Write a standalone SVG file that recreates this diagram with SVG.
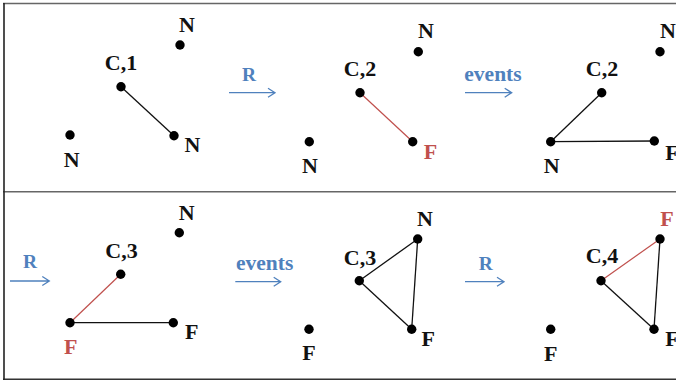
<svg xmlns="http://www.w3.org/2000/svg" width="676" height="381" viewBox="0 0 676 381">
<defs>
<style>
.lbl{font-family:"Liberation Serif","Times New Roman",serif;font-weight:bold;font-size:22px;fill:#111;text-anchor:middle}
.red{fill:#c0504d}
.blue{font-family:"Liberation Serif","Times New Roman",serif;font-weight:bold;fill:#4f81bd;text-anchor:middle}
.dot{fill:#000}
.e{stroke:#111;stroke-width:1.3;fill:none}
.er{stroke:#c0504d;stroke-width:1.2;fill:none}
.arr{stroke:#4f81bd;stroke-width:1.3;fill:none}
</style>
</defs>
<rect width="676" height="381" fill="#fff"/>
<g id="frame">
<line x1="3" y1="3.5" x2="676" y2="3.5" stroke="#666" stroke-width="1.6"/>
<line x1="3" y1="191.7" x2="676" y2="191.7" stroke="#666" stroke-width="1.6"/>
<line x1="3" y1="379.3" x2="676" y2="379.3" stroke="#333" stroke-width="1.6"/>
<line x1="4" y1="3" x2="4" y2="380" stroke="#222" stroke-width="1.6"/>
</g>
<g id="connectors">
<line class="e" x1="121" y1="86.7" x2="174" y2="135.7"/>
<line class="er" x1="360" y1="92.7" x2="412.7" y2="141.7"/>
<line class="e" x1="601.7" y1="92.7" x2="550.7" y2="141.7"/>
<line class="e" x1="550.7" y1="141.7" x2="654.3" y2="141"/>
<line class="er" x1="120.7" y1="274.3" x2="70" y2="322.7"/>
<line class="e" x1="70" y1="322.7" x2="173.3" y2="322.7"/>
<line class="e" x1="359.3" y1="280.7" x2="417.7" y2="239"/>
<line class="e" x1="359.3" y1="280.7" x2="411.7" y2="329.3"/>
<line class="e" x1="417.7" y1="239" x2="411.7" y2="329.3"/>
<line class="er" x1="601" y1="280.7" x2="660" y2="239"/>
<line class="e" x1="601" y1="280.7" x2="654" y2="329.3"/>
<line class="e" x1="660" y1="239" x2="654" y2="329.3"/>
</g>
<g id="arrows">
<path class="arr" d="M229 92.7H275M268 88.2L275 92.7L268 97.2"/>
<path class="arr" d="M465 92.7H511.7M504.7 88.2L511.7 92.7L504.7 97.2"/>
<path class="arr" d="M10 281H49.3M42.3 276.5L49.3 281L42.3 285.5"/>
<path class="arr" d="M235.3 281.7H280.7M273.7 277.2L280.7 281.7L273.7 286.2"/>
<path class="arr" d="M465 281.7H504M497 277.2L504 281.7L497 286.2"/>
<text class="blue" x="249" y="80.5" font-size="19.5">R</text>
<text class="blue" x="493" y="81" font-size="21.5">events</text>
<text class="blue" x="30" y="268.3" font-size="19.5">R</text>
<text class="blue" x="264.7" y="270" font-size="21.5">events</text>
<text class="blue" x="485.7" y="270" font-size="19.5">R</text>
</g>
<g id="p1-n-top"><circle class="dot" cx="180" cy="45" r="4.7"/><text class="lbl" x="187" y="32">N</text></g>
<g id="p1-c1"><circle class="dot" cx="121" cy="86.7" r="4.7"/><text class="lbl" x="121" y="70">C,1</text></g>
<g id="p1-n-right"><circle class="dot" cx="174" cy="135.7" r="4.7"/><text class="lbl" x="192.5" y="152">N</text></g>
<g id="p1-n-left"><circle class="dot" cx="70" cy="135" r="4.7"/><text class="lbl" x="71.7" y="167">N</text></g>
<g id="p2-n-left"><circle class="dot" cx="309.3" cy="141.7" r="4.7"/><text class="lbl" x="310" y="173">N</text></g>
<g id="p2-n-top"><circle class="dot" cx="418.3" cy="51.7" r="4.7"/><text class="lbl" x="426" y="38">N</text></g>
<g id="p2-c2"><circle class="dot" cx="360" cy="92.7" r="4.7"/><text class="lbl" x="360" y="76">C,2</text></g>
<g id="p2-f"><circle class="dot" cx="412.7" cy="141.7" r="4.7"/><text class="lbl red" x="430.5" y="159.3">F</text></g>
<g id="p3-c2"><circle class="dot" cx="601.7" cy="92.7" r="4.7"/><text class="lbl" x="602" y="76">C,2</text></g>
<g id="p3-n"><circle class="dot" cx="550.7" cy="141.7" r="4.7"/><text class="lbl" x="551.7" y="173">N</text></g>
<g id="p3-f"><circle class="dot" cx="654.3" cy="141" r="4.7"/><text class="lbl" x="672" y="160">F</text></g>
<g id="p3-n-top"><circle class="dot" cx="660" cy="51.7" r="4.7"/><text class="lbl" x="668" y="38">N</text></g>
<g id="p4-n"><circle class="dot" cx="179.3" cy="232.7" r="4.7"/><text class="lbl" x="186.7" y="220">N</text></g>
<g id="p4-c3"><circle class="dot" cx="120.7" cy="274.3" r="4.7"/><text class="lbl" x="121.5" y="257.7">C,3</text></g>
<g id="p4-f-left"><circle class="dot" cx="70" cy="322.7" r="4.7"/><text class="lbl red" x="70.7" y="354.3">F</text></g>
<g id="p4-f-right"><circle class="dot" cx="173.3" cy="322.7" r="4.7"/><text class="lbl" x="191.7" y="339">F</text></g>
<g id="p5-f-left"><circle class="dot" cx="309" cy="329.3" r="4.7"/><text class="lbl" x="309" y="360">F</text></g>
<g id="p5-n"><circle class="dot" cx="417.7" cy="239" r="4.7"/><text class="lbl" x="425" y="225.7">N</text></g>
<g id="p5-c3"><circle class="dot" cx="359.3" cy="280.7" r="4.7"/><text class="lbl" x="360" y="265">C,3</text></g>
<g id="p5-f"><circle class="dot" cx="411.7" cy="329.3" r="4.7"/><text class="lbl" x="428.3" y="345.7">F</text></g>
<g id="p6-f-left"><circle class="dot" cx="550.7" cy="329.3" r="4.7"/><text class="lbl" x="550.7" y="360.7">F</text></g>
<g id="p6-c4"><circle class="dot" cx="601" cy="280.7" r="4.7"/><text class="lbl" x="602" y="263.3">C,4</text></g>
<g id="p6-f-top"><circle class="dot" cx="660" cy="239" r="4.7"/><text class="lbl red" x="667" y="225.7">F</text></g>
<g id="p6-f-bottom"><circle class="dot" cx="654" cy="329.3" r="4.7"/><text class="lbl" x="672" y="345.7">F</text></g>
</svg>
